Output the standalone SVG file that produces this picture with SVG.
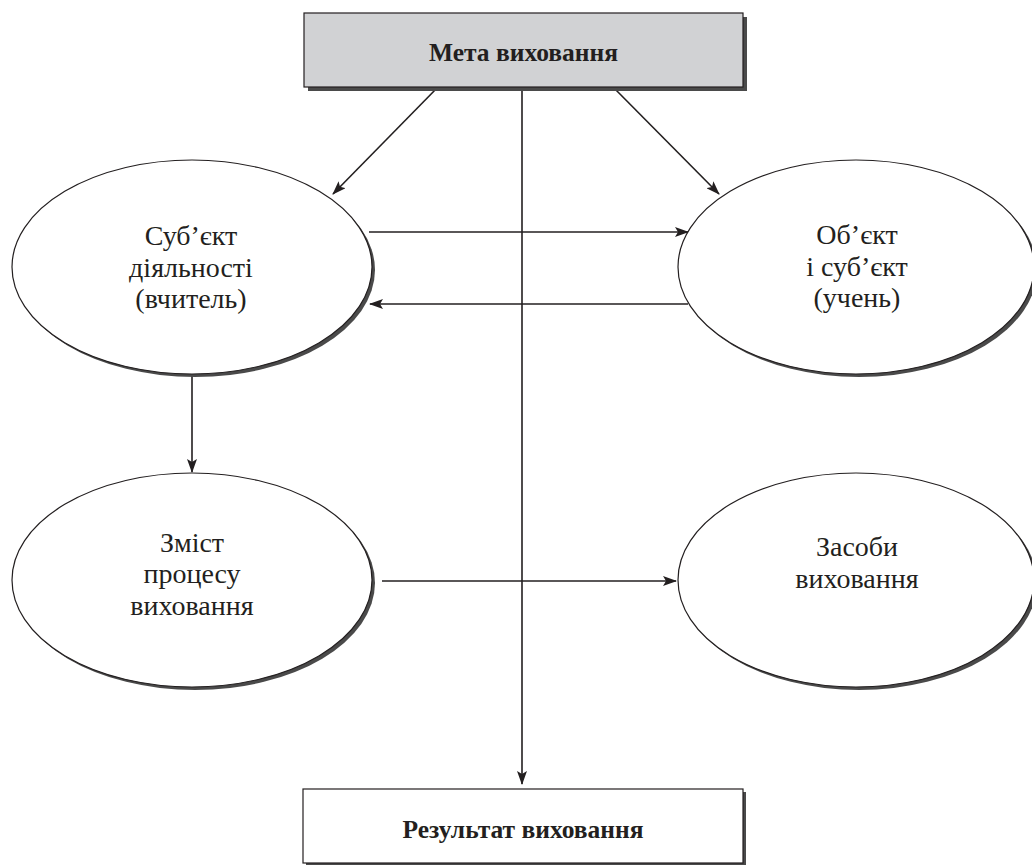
<svg xmlns="http://www.w3.org/2000/svg" width="1032" height="865" viewBox="0 0 1032 865">
<style>
.sh{fill:#4a4a4a}
.box{stroke:#231f20;stroke-width:1.2}
.el{fill:#fff;stroke:#231f20;stroke-width:1.2}
.t{font-family:"Liberation Serif",serif;font-size:28px;fill:#231f20;text-anchor:middle}
.tb{font-family:"Liberation Serif",serif;font-size:25.5px;font-weight:bold;fill:#231f20;text-anchor:middle}
.c{stroke:#231f20;stroke-width:1.6;fill:none;marker-end:url(#ah)}
</style>
<defs>
<marker id="ah" viewBox="0 0 14 10" refX="13" refY="5" markerWidth="14" markerHeight="10" markerUnits="userSpaceOnUse" orient="auto">
<path d="M0,0 L14,5 L0,10 L3,5 z" fill="#231f20"/>
</marker>
</defs>
<rect width="1032" height="865" fill="#fff"/>
<g id="connectors">
<line class="c" x1="522" y1="87" x2="522" y2="784"/>
<line class="c" x1="438" y1="87" x2="333" y2="194"/>
<line class="c" x1="613" y1="87" x2="719" y2="194"/>
<line class="c" x1="369" y1="232" x2="688" y2="232"/>
<line class="c" x1="688" y1="304" x2="370" y2="304"/>
<line class="c" x1="192" y1="376" x2="192" y2="472"/>
<line class="c" x1="382" y1="581" x2="676" y2="581"/>
</g>
<g id="meta">
<rect class="sh" x="308" y="17" width="439" height="74"/>
<rect class="box" x="304" y="13" width="439" height="74" fill="#d1d2d4"/>
<text class="tb" x="523.5" y="61">Мета виховання</text>
</g>
<g id="subject">
<ellipse class="sh" cx="195" cy="270" rx="180" ry="107"/>
<ellipse class="el" cx="192" cy="267" rx="180" ry="107"/>
<text class="t" x="191" y="245">Суб’єкт</text>
<text class="t" x="191" y="277">діяльності</text>
<text class="t" x="191" y="308">(вчитель)</text>
</g>
<g id="object">
<ellipse class="sh" cx="859" cy="270" rx="178" ry="107"/>
<ellipse class="el" cx="856" cy="267" rx="178" ry="107"/>
<text class="t" x="857" y="244">Об’єкт</text>
<text class="t" x="857" y="276">і суб’єкт</text>
<text class="t" x="857" y="307">(учень)</text>
</g>
<g id="content">
<ellipse class="sh" cx="195" cy="583" rx="180" ry="107"/>
<ellipse class="el" cx="192" cy="580" rx="180" ry="107"/>
<text class="t" x="192" y="552">Зміст</text>
<text class="t" x="192" y="583">процесу</text>
<text class="t" x="192" y="615">виховання</text>
</g>
<g id="means">
<ellipse class="sh" cx="859" cy="583" rx="178" ry="107"/>
<ellipse class="el" cx="856" cy="580" rx="178" ry="107"/>
<text class="t" x="857" y="556">Засоби</text>
<text class="t" x="857" y="588">виховання</text>
</g>
<g id="result">
<rect class="sh" x="306" y="792" width="440" height="74"/>
<rect class="box" x="303" y="789" width="440" height="74" fill="#fff"/>
<text class="tb" x="523" y="838">Результат виховання</text>
</g>
</svg>
